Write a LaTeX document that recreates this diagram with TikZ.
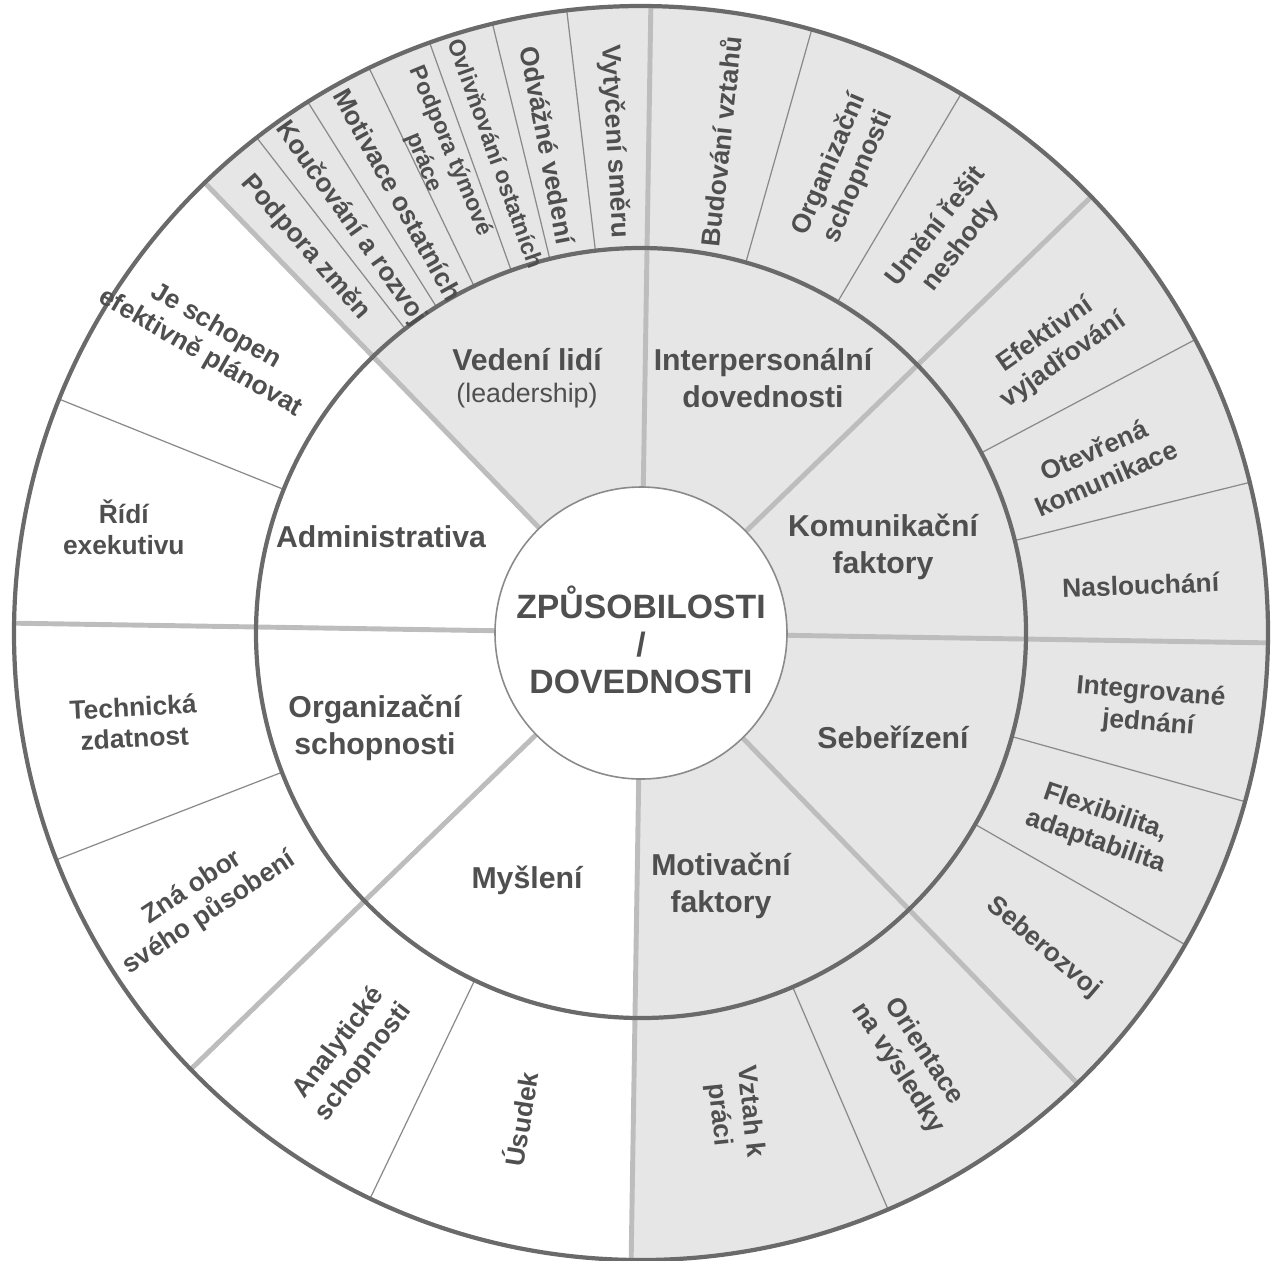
\documentclass[tikz,border=0pt]{standalone}
\usepackage{fontspec}
\setmainfont{Liberation Sans}
\usepackage{tikz}
\usetikzlibrary{calc}

\definecolor{wheelgray}{HTML}{E6E6E6}
\definecolor{rimgray}{HTML}{6A6A6A}
\definecolor{spokegray}{HTML}{BDBDBD}
\definecolor{hairgray}{HTML}{8A8A8A}
\definecolor{inkgray}{HTML}{4F4F4F}

\begin{document}
\begin{tikzpicture}[
    rim/.style={rimgray, line width=1.2pt},
    spoke/.style={spokegray, line width=1.4pt},
    hair/.style={hairgray, line width=0.35pt},
    core/.style={font=\bfseries\fontsize{9.6}{10.6}\selectfont, text=inkgray, align=center},
    area/.style={font=\bfseries\fontsize{8.6}{10.5}\selectfont, text=inkgray, align=center},
    item/.style={font=\bfseries\fontsize{7.5}{8.8}\selectfont, text=inkgray, align=center, inner sep=0pt},
    smallitem/.style={item, font=\bfseries\fontsize{6.6}{8.2}\selectfont},
  ]

    \useasboundingbox (-6.41,-6.27) rectangle (6.36,6.33);

    \begin{scope}[rotate=-0.9]
        % Shaded half of the wheel
        \fill[wheelgray] (0,0) -- (-90:6.27) arc (-90:135:6.27) -- cycle;

        % Thin lines between the items
        \foreach \a in {128.7,123.0,116.6,110.6,104.6,97.7,75.1,60.2,28.8,14.8,-14.7,-28.9,-65.9,245.3,202.1,159}
            \draw[hair] (\a:3.85) -- (\a:6.27);

        % Spokes between the areas
        \foreach \a in {0,45,...,315}
            \draw[spoke] (\a:1.46) -- (\a:6.27);

        % Rings
        \draw[rim] (0,0) circle (3.85);
        \draw[rim] (0,0) circle (6.27);

        % Center
        \filldraw[fill=white, draw=hairgray, line width=0.45pt] (0,0) circle (1.46);
    \end{scope}

    % Center text
    \node[core] (core) at (0,-0.07) {ZPŮSOBILOSTI\\/\\DOVEDNOSTI};

    % Areas
    \node[area] (lead) at (-1.14,2.55) {Vedení lidí\\[-1.5pt]{\mdseries\fontsize{7.6}{9}\selectfont (leadership)}};
    \node[area] (inter) at (1.22,2.55) {Interpersonální\\dovednosti};
    \node[area] (komu) at (2.42,0.86) {Komunikační\\faktory};
    \node[area] (sebe) at (2.52,-1.04) {Sebeřízení};
    \node[area] (moti) at (0.80,-2.53) {Motivační\\faktory};
    \node[area] (mysl) at (-1.14,-2.47) {Myšlení};
    \node[area] (orga) at (-2.66,-0.95) {Organizační\\schopnosti};
    \node[area] (admi) at (-2.60,0.96) {Administrativa};

    % Items: leadership
    \node[item, rotate=-49] (zmeny) at (131:5.11) {Podpora změn};
    \node[item, rotate=-54.7] (kouc) at (125.3:5.02) {Koučování a rozvoj};
    \node[item, rotate=-61] (motiv) at (119:5.01) {Motivace ostatních};
    \node[smallitem, rotate=-67.5] (tym) at (113.2:5.18) {Podpora týmové\\práce};
    \node[smallitem, rotate=-70.3] (ovliv) at (106.8:5.01) {Ovlivňování ostatních};
    \node[item, rotate=-79.2] (odvaz) at (100.8:4.97) {Odvážné vedení};
    \node[item, rotate=-86.9] (smer) at (93.1:4.92) {Vytyčení směru};

    % Items: interpersonal
    \node[item, rotate=84] (vztahy) at (80.8:4.98) {Budování vztahů};
    \node[item, rotate=67] (orgsch) at (66.3:5.05) {Organizační\\schopnosti};
    \node[item, rotate=52] (neshody) at (52.2:5.02) {Umění řešit\\neshody};

    % Items: communication
    \node[item, rotate=35] (vyjad) at (34.6:5.02) {Efektivní\\vyjadřování};
    \node[item, rotate=23.5] (otev) at (20.2:4.89) {Otevřená\\komunikace};
    \node[item, rotate=2] (nasl) at (5.5:5.02) {Naslouchání};

    % Items: self management
    \node[item, rotate=-5] (integ) at (-8.4:5.14) {Integrované\\jednání};
    \node[item, rotate=-19] (flex) at (-22.9:4.99) {Flexibilita,\\adaptabilita};
    \node[item, rotate=-40.6] (rozvoj) at (-38:5.11) {Seberozvoj};

    % Items: motivation
    \node[item, rotate=-84] (prace) at (-79:4.89) {Vztah k\\práci};
    \node[item, rotate=-57] (vysl) at (-57.7:5.05) {Orientace\\na výsledky};

    % Items: thinking
    \node[item, rotate=52.5] (analy) at (235.4:5.10) {Analytické\\schopnosti};
    \node[item, rotate=81] (usud) at (256:5.01) {Úsudek};

    % Items: organisation
    \node[item, rotate=3] (techn) at (190:5.15) {Technická\\zdatnost};
    \node[item, rotate=33.5] (obor) at (211.3:5.15) {Zná obor\\svého působení};

    % Items: administration
    \node[item] (exek) at (168.4:5.28) {Řídí\\exekutivu};
    \node[item, rotate=-30] (plan) at (145.9:5.23) {Je schopen\\efektivně plánovat};

\end{tikzpicture}
\end{document}
